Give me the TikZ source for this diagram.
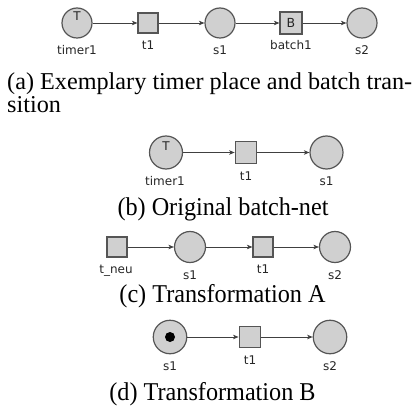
\documentclass[tikz,border=0pt]{standalone}
\usepackage{fontspec}
\setmainfont{Liberation Serif}
\newfontfamily\lblfont{DejaVu Sans}
\usetikzlibrary{arrows.meta}
\definecolor{pfill}{HTML}{D0D0D0}
\definecolor{pdraw}{HTML}{555555}
\definecolor{adraw}{HTML}{404040}
\newcommand{\captxt}[1]{\scalebox{1}[1.06]{#1}}
\begin{document}
\begin{tikzpicture}[x=1pt,y=-1pt,
  place/.style={circle,draw=pdraw,fill=pfill,line width=1.2pt,inner sep=0pt,minimum size=#1},
  place/.default=30pt,
  trans/.style={rectangle,draw=pdraw,fill=pfill,line width=1.2pt,inner sep=0pt,minimum size=#1},
  trans/.default=20pt,
  arc/.style={draw=adraw,line width=0.8pt,-{Stealth[length=5.5pt,width=4.5pt,inset=1.5pt]}},
  lbl/.style={font=\lblfont\fontsize{12}{13}\selectfont,text=black!85,inner sep=0pt,anchor=base},
  captext/.style={font=\fontsize{24.2}{22}\selectfont,inner sep=0pt,anchor=base}]
\useasboundingbox (0,0) rectangle (417,406);

% (a)
\node[place] (a1) at (77,23) {};
\node[lbl] (a1T) at (77,20.5) {T};
\node[trans] (a2) at (148,23) {};
\node[place] (a3) at (220,23) {};
\node[trans=21.5pt,line width=1.7pt,font=\lblfont\fontsize{12.5}{13}\selectfont,text=black!85] (a4) at (291,23) {B};
\node[place] (a5) at (362,23) {};
\draw[arc] (a1) -- (a2);
\draw[arc] (a2) -- (a3);
\draw[arc] (a3) -- (a4);
\draw[arc] (a4) -- (a5);
\node[lbl] (la1) at (77,55) {timer1};
\node[lbl] (la2) at (148,50) {t1};
\node[lbl] (la3) at (220,55) {s1};
\node[lbl] (la4) at (291,50) {batch1};
\node[lbl] (la5) at (362,55) {s2};
\node[captext,anchor=base west] (capa1) at (7,90) {\makebox[405pt][s]{(a) Exemplary timer place and batch tran-}};
\node[captext,anchor=base west] (capa2) at (7,113) {sition};

% (b)
\node[place=33pt] (b1) at (166,152.5) {};
\node[lbl] (b1T) at (166,150) {T};
\node[trans=21.5pt] (b2) at (246,152.5) {};
\node[place=33pt] (b3) at (326.5,152.5) {};
\draw[arc] (b1) -- (b2);
\draw[arc] (b2) -- (b3);
\node[lbl] (lb1) at (165,185) {timer1};
\node[lbl] (lb2) at (246,180) {t1};
\node[lbl] (lb3) at (326.5,185) {s1};
\node[captext] (capb) at (223,215) {\captxt{(b) Original batch-net}};

% (c)
\node[trans] (c1) at (117,247) {};
\node[place=31pt] (c2) at (190,247) {};
\node[trans] (c3) at (263,247) {};
\node[place=31pt] (c4) at (335,247) {};
\draw[arc] (c1) -- (c2);
\draw[arc] (c2) -- (c3);
\draw[arc] (c3) -- (c4);
\node[lbl] (lc1) at (116,273) {t\_neu};
\node[lbl] (lc2) at (190,279) {s1};
\node[lbl] (lc3) at (263,273) {t1};
\node[lbl] (lc4) at (335,279) {s2};
\node[captext] (capc) at (222.5,302) {\captxt{(c) Transformation A}};

% (d)
\node[place=33.5pt] (d1) at (170,337) {};
\node[circle,fill=black,inner sep=0pt,minimum size=10pt] (tok) at (170,337) {};
\node[trans=21.7pt] (d2) at (250,337) {};
\node[place=33.5pt] (d3) at (330,337) {};
\draw[arc] (d1) -- (d2);
\draw[arc] (d2) -- (d3);
\node[lbl] (ld1) at (170,370) {s1};
\node[lbl] (ld2) at (250,364) {t1};
\node[lbl] (ld3) at (330,370) {s2};
\node[captext] (capd) at (212.5,400) {\captxt{(d) Transformation B}};
\end{tikzpicture}
\end{document}
